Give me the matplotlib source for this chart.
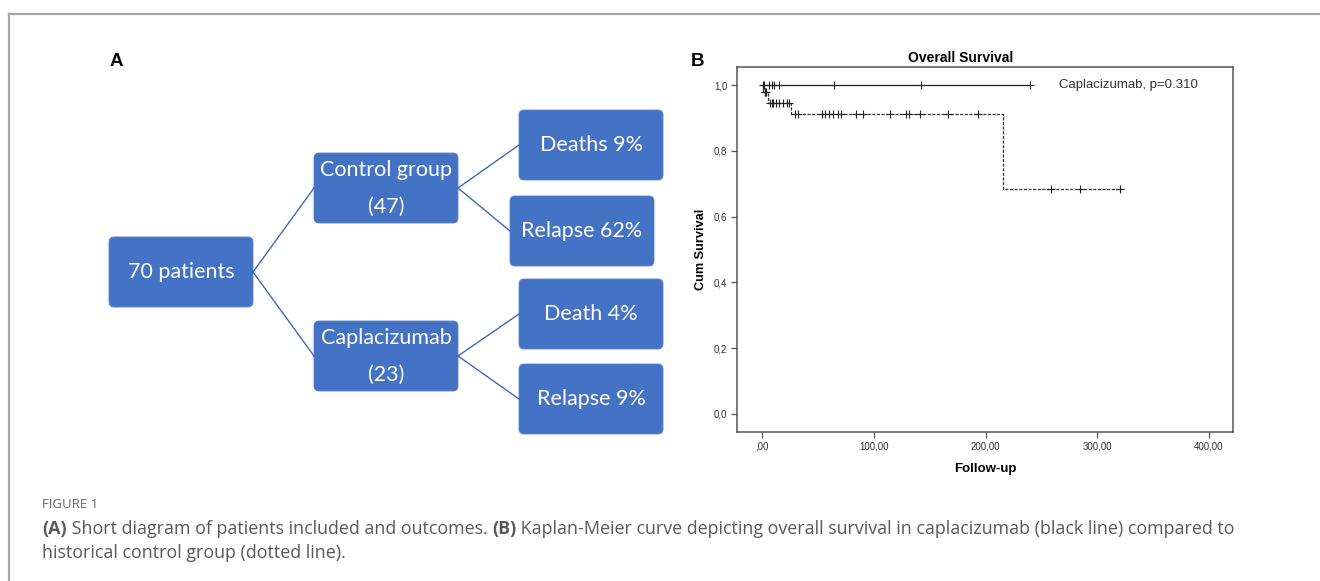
import matplotlib
matplotlib.use('Agg')
import matplotlib.pyplot as plt
from matplotlib.patches import FancyBboxPatch
from matplotlib.lines import Line2D

# ---- panel A: flow diagram labels ----
root_label = '70 patients'
group_labels = ['Control group\n(47)', 'Caplacizumab\n(23)']
outcome_labels = [['Deaths 9%', 'Relapse 62%'], ['Death 4%', 'Relapse 9%']]

# ---- panel B: Kaplan-Meier data ----
ctrl_times = [0, 1, 5, 26, 216, 322]
ctrl_surv = [1.0, 0.978, 0.946, 0.912, 0.684, 0.684]
ctrl_cens_t = [2.5, 3, 3.5, 7, 8.7, 10, 12.5, 15.5, 18.5, 22, 24.4,
               29.5, 32.5, 53.4, 56.4, 60.3, 63.9, 68.4, 70.6, 84.3, 90.3,
               114.7, 128.8, 131.7, 141, 166.3, 193.2,
               258.4, 284.6, 320.4]
ctrl_cens_s = [0.978] * 3 + [0.946] * 8 + [0.912] * 16 + [0.684] * 3

capla_times = [0, 240]
capla_surv = [1.0, 1.0]
capla_cens_t = [0.5, 1.5, 6.5, 8.7, 11, 15, 64, 142, 240]

xticks = [0, 100, 200, 300, 400]
xticklabels = [',00', '100,00', '200,00', '300,00', '400,00']
yticks = [0.0, 0.2, 0.4, 0.6, 0.8, 1.0]
yticklabels = ['0,0', '0,2', '0,4', '0,6', '0,8', '1,0']

W, H = 1320, 581
fig = plt.figure(figsize=(W / 100, H / 100), dpi=100)

# background canvas in pixel coordinates
bg = fig.add_axes([0, 0, 1, 1])
bg.set_xlim(0, W)
bg.set_ylim(H, 0)
bg.axis('off')

# frame lines of the figure box (top + left)
bg.add_line(Line2D([9, W], [14, 14], color='#a6a6a6', lw=1.6))
bg.add_line(Line2D([9, 9], [14, H], color='#a6a6a6', lw=1.6))

box_color = '#4472C4'
box_font = ['Lato', 'DejaVu Sans']


def box(cx, cy, w, h, text):
    p = FancyBboxPatch((cx - w / 2, cy - h / 2), w, h,
                       boxstyle='round,pad=0,rounding_size=5',
                       fc=box_color, ec='#5b85cf', lw=0.6)
    bg.add_patch(p)
    bg.text(cx, cy, text, color='white', fontsize=15.5, family=box_font,
            ha='center', va='center', linespacing=2.05)


def link(x0, y0, x1, y1):
    bg.add_line(Line2D([x0, x1], [y0, y1], color='#3f68b5', lw=1.0))


bw, bh = 144, 70
root = (181, 272)
groups = [(386, 188), (386, 356)]
outcomes = [[(591, 145), (582, 231)], [(591, 314), (591, 399)]]

box(root[0], root[1], bw, bh, root_label)
for gi, g in enumerate(groups):
    link(root[0] + bw / 2, root[1], g[0] - bw / 2, g[1])
    box(g[0], g[1], bw, bh, group_labels[gi])
    for oi, o in enumerate(outcomes[gi]):
        link(g[0] + bw / 2, g[1], o[0] - bw / 2, o[1])
        box(o[0], o[1], bw, bh, outcome_labels[gi][oi])

bg.text(116, 61, 'A', fontsize=13.5, fontweight='bold',
        family='Liberation Sans', ha='center', va='center')
bg.text(697, 61, 'B', fontsize=13.5, fontweight='bold',
        family='Liberation Sans', ha='center', va='center')

# ---- KM axes ----
ax = fig.add_axes([737 / W, 1 - 432 / H, (1233 - 737) / W, (432 - 67) / H])
ax.step(ctrl_times, ctrl_surv, where='post', color='#333333', lw=0.9,
        linestyle=(0, (2.5, 1.2)))
ax.step(capla_times, capla_surv, where='post', color='#222222', lw=0.9)
ax.plot(ctrl_cens_t, ctrl_cens_s, '+', color='#222222', ms=6, mew=0.8)
ax.plot(capla_cens_t, [1.0] * len(capla_cens_t), '+', color='#222222',
        ms=6, mew=0.8)

ax.set_xlim(-22.4, 421.5)
ax.set_ylim(-0.055, 1.055)
ax.set_xticks(xticks)
ax.set_xticklabels(xticklabels)
ax.set_yticks(yticks)
ax.set_yticklabels(yticklabels)
for s in ax.spines.values():
    s.set_color('#555555')
    s.set_linewidth(1.1)
ax.tick_params(direction='out', length=4, width=0.9, color='#555555',
               labelsize=7, labelcolor='#333333', pad=3)
for lab in ax.get_xticklabels() + ax.get_yticklabels():
    lab.set_family('Liberation Sans')

ax.text(0.45, 1.024, 'Overall Survival', transform=ax.transAxes,
        fontsize=10, fontweight='bold', family='Liberation Sans',
        ha='center', va='center')
ax.set_xlabel('Follow-up', fontsize=9.5, fontweight='bold',
              family='Liberation Sans', labelpad=8)
ax.set_ylabel('Cum Survival', fontsize=9.2, fontweight='bold',
              family='Liberation Sans', labelpad=5)
ax.text(0.649, 0.951, 'Caplacizumab, p=0.310', transform=ax.transAxes,
        fontsize=9.5, family='Liberation Sans', color='#333333',
        ha='left', va='center')

# ---- caption ----
cap_color = '#595959'
cap_font = 'Open Sans'
bg.text(42, 505, 'FIGURE 1', fontsize=9.5, color='#666666', family=cap_font,
        ha='left', va='center')

renderer = fig.canvas.get_renderer()


def rich_line(x, y, parts, size):
    for txt, bold in parts:
        t = bg.text(x, y, txt, fontsize=size, color=cap_color, family=cap_font,
                    fontweight='bold' if bold else 'normal',
                    ha='left', va='center')
        bb = t.get_window_extent(renderer=renderer)
        x += bb.width


rich_line(42, 529, [('(A)', True),
                    (' Short diagram of patients included and outcomes. ', False),
                    ('(B)', True),
                    (' Kaplan-Meier curve depicting overall survival in caplacizumab '
                     '(black line) compared to', False)], 12.9)
rich_line(42, 553, [('historical control group (dotted line).', False)], 12.9)

fig.savefig('out.png', dpi=100)
